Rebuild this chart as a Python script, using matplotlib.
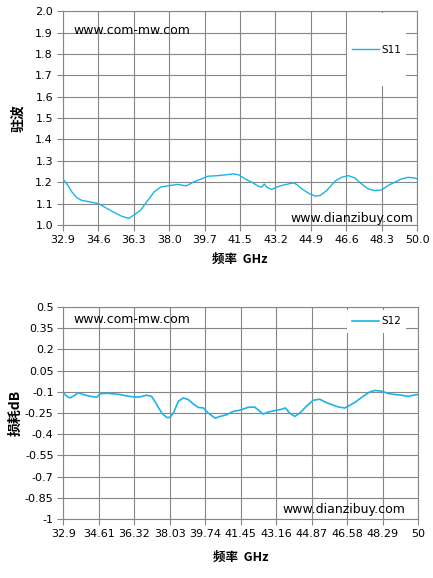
import numpy as np
import matplotlib
matplotlib.use('Agg')
import matplotlib.pyplot as plt
from matplotlib.patches import Rectangle

plt.rcParams['font.family'] = ['DejaVu Sans', 'Noto Sans CJK SC']

# S11 驻波 (VSWR)
f11 = [32.9, 33.09, 33.34, 33.58, 33.82, 34.23, 34.63, 35.04, 35.36, 35.77, 36.09,
       36.34, 36.66, 36.98, 37.31, 37.63, 37.96, 38.44, 38.85, 39.25, 39.58, 39.90,
       40.39, 40.87, 41.12, 41.38, 41.70, 42.02, 42.34, 42.50, 42.62, 42.74, 42.98,
       43.22, 43.46, 43.78, 44.03, 44.19, 44.43, 44.75, 45.07, 45.31, 45.63, 46.03,
       46.35, 46.67, 46.99, 47.31, 47.63, 47.95, 48.27, 48.59, 48.91, 49.23, 49.55,
       49.87, 50.0]
s11 = [1.215, 1.195, 1.155, 1.128, 1.115, 1.108, 1.100, 1.077, 1.060, 1.040, 1.031,
       1.047, 1.070, 1.112, 1.155, 1.178, 1.183, 1.190, 1.183, 1.203, 1.215, 1.228,
       1.231, 1.236, 1.239, 1.235, 1.215, 1.200, 1.181, 1.177, 1.192, 1.177, 1.166,
       1.177, 1.185, 1.192, 1.197, 1.189, 1.169, 1.149, 1.135, 1.138, 1.161, 1.205,
       1.223, 1.231, 1.220, 1.192, 1.169, 1.161, 1.164, 1.185, 1.200, 1.215, 1.223,
       1.220, 1.215]

# S12 损耗 dB
f12 = [32.9, 33.06, 33.22, 33.38, 33.62, 33.86, 34.18, 34.51, 34.67, 34.99, 35.31,
       35.63, 35.95, 36.27, 36.59, 36.91, 37.15, 37.40, 37.64, 37.88, 38.04, 38.20,
       38.44, 38.68, 38.92, 39.16, 39.40, 39.64, 39.88, 40.21, 40.45, 40.77, 41.09,
       41.41, 41.79, 42.11, 42.27, 42.52, 42.76, 43.08, 43.40, 43.59, 43.80, 44.05,
       44.29, 44.61, 44.93, 45.25, 45.49, 45.82, 46.14, 46.46, 46.70, 47.02, 47.34,
       47.67, 47.91, 48.23, 48.55, 48.87, 49.20, 49.52, 49.76, 50.0]
s12 = [-0.107, -0.131, -0.143, -0.131, -0.107, -0.119, -0.131, -0.138, -0.114, -0.110,
       -0.114, -0.119, -0.129, -0.136, -0.136, -0.124, -0.131, -0.190, -0.250, -0.281,
       -0.281, -0.250, -0.167, -0.143, -0.155, -0.186, -0.210, -0.214, -0.250, -0.286,
       -0.274, -0.262, -0.238, -0.230, -0.210, -0.207, -0.226, -0.257, -0.243, -0.233,
       -0.224, -0.214, -0.250, -0.274, -0.250, -0.202, -0.160, -0.152, -0.171, -0.190,
       -0.207, -0.214, -0.195, -0.167, -0.131, -0.100, -0.090, -0.095, -0.112, -0.119,
       -0.124, -0.133, -0.124, -0.118]

xt_top = ['32.9', '34.6', '36.3', '38.0', '39.7', '41.5', '43.2', '44.9', '46.6', '48.3', '50.0']
xt_bot = ['32.9', '34.61', '36.32', '38.03', '39.74', '41.45', '43.16', '44.87', '46.58', '48.29', '50']
yt_bot = [0.5, 0.35, 0.2, 0.05, -0.1, -0.25, -0.4, -0.55, -0.7, -0.85, -1]

blue = '#1ab4ea'
grey = '#868686'
xpos = np.linspace(32.9, 50.0, 11)
cjk = ['Noto Sans CJK SC', 'DejaVu Sans']

fig = plt.figure(figsize=(4.33, 5.78), dpi=100)
ax1 = fig.add_axes([0.1448, 0.6107, 0.819, 0.370])
ax2 = fig.add_axes([0.1462, 0.102, 0.820, 0.3668])


def style(ax):
    ax.set_axisbelow(True)
    ax.grid(True, color=grey, linewidth=0.8)
    for s in ax.spines.values():
        s.set_color(grey)
        s.set_linewidth(0.8)
    ax.tick_params(direction='out', length=4, width=0.8, color=grey, labelsize=8, pad=3)
    ax.set_xlim(32.9, 50.0)


style(ax1)
ax1.plot(f11, s11, color=blue, linewidth=1, label='S11', zorder=3)
ax1.set_ylim(1.0, 2.0)
ax1.set_yticks(np.arange(1.0, 2.01, 0.1))
ax1.set_yticklabels(['%.1f' % v for v in np.arange(1.0, 2.01, 0.1)])
ax1.set_xticks(xpos)
ax1.set_xticklabels(xt_top)
ax1.add_patch(Rectangle((0.802, 0.65), 0.166, 0.34, transform=ax1.transAxes,
                        facecolor='white', edgecolor='none', zorder=1))
ax1.legend(loc='center', bbox_to_anchor=(0.885, 0.82), frameon=False, fontsize=7.5,
           handlelength=2.6, handletextpad=0.2)
ax1.text(0.03, 0.91, 'www.com-mw.com', transform=ax1.transAxes, fontsize=9, va='center')
ax1.text(0.988, 0.03, 'www.dianzibuy.com', transform=ax1.transAxes, fontsize=9,
         va='center', ha='right')
ax1.set_xlabel('频率  GHz', fontsize=9, fontweight='bold', family=cjk, labelpad=6)
ax1.set_ylabel('驻波', fontsize=10, fontweight='bold', family=cjk, labelpad=7)

style(ax2)
ax2.plot(f12, s12, color=blue, linewidth=1.2, label='S12', zorder=3)
ax2.set_ylim(-1, 0.5)
ax2.set_yticks(yt_bot)
ax2.set_yticklabels([str(v) for v in yt_bot])
ax2.set_xticks(xpos)
ax2.set_xticklabels(xt_bot)
ax2.add_patch(Rectangle((0.799, 0.877), 0.166, 0.109, transform=ax2.transAxes,
                        facecolor='white', edgecolor='none', zorder=1))
ax2.legend(loc='center', bbox_to_anchor=(0.882, 0.932), frameon=False, fontsize=7.5,
           handlelength=2.6, handletextpad=0.2)
ax2.text(0.03, 0.94, 'www.com-mw.com', transform=ax2.transAxes, fontsize=9, va='center')
ax2.text(0.962, 0.045, 'www.dianzibuy.com', transform=ax2.transAxes, fontsize=9,
         va='center', ha='right')
ax2.set_xlabel('频率  GHz', fontsize=9, fontweight='bold', family=cjk, labelpad=9)
ax2.set_ylabel('损耗dB', fontsize=10, fontweight='bold', family=cjk, labelpad=2)

fig.savefig('out.png', dpi=100)
